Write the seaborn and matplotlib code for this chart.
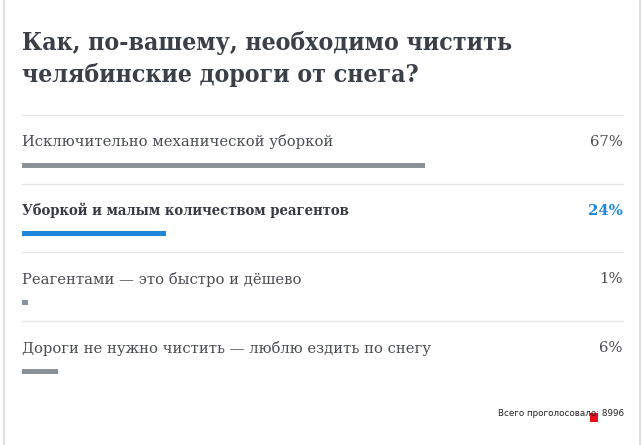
import matplotlib
matplotlib.use("Agg")
import matplotlib.pyplot as plt
import seaborn as sns
import pandas as pd
from matplotlib.patches import Rectangle

title = "Как, по-вашему, необходимо чистить\nчелябинские дороги от снега?"
categories = [
    "Исключительно механической уборкой",
    "Уборкой и малым количеством реагентов",
    "Реагентами — это быстро и дёшево",
    "Дороги не нужно чистить — люблю ездить по снегу",
]
values = [67, 24, 1, 6]
pct_labels = ["67%", "24%", "1%", "6%"]
highlight = [False, True, False, False]
footer = "Всего проголосовало: 8996"

GRAY = "#8b9199"
BLUE = "#1e87d9"
TEXT = "#4a4d52"
DARK = "#363a42"

sns.set_theme(style="white")
plt.rcParams["font.family"] = ["DejaVu Serif", "DejaVu Sans"]

W, H = 643, 445
fig = plt.figure(figsize=(W / 100, H / 100), dpi=100)
fig.patch.set_facecolor("white")

fig.add_artist(plt.Line2D([3.5 / W, 3.5 / W], [0, 1], color="#d9d9d9", lw=1.2))
fig.add_artist(plt.Line2D([639.5 / W, 639.5 / W], [0, 1], color="#d9d9d9", lw=1.2))

row = 68.7
top_px = 165 - row / 2
left, right = 22, 623
ax = fig.add_axes([left / W, (H - (top_px + 4 * row)) / H, (right - left) / W, 4 * row / H])

df = pd.DataFrame({"cat": categories, "val": values})
colors = [BLUE if h else GRAY for h in highlight]
sns.barplot(data=df, x="val", y="cat", hue="cat", palette=colors, legend=False,
            width=5 / row, ax=ax, orient="h", saturation=1)
for p in ax.patches:
    p.set_linewidth(0)

ax.set_xlim(0, 100)
ax.set_ylim(3.5, -0.5)
ax.axis("off")

for i, (cat, pct, h) in enumerate(zip(categories, pct_labels, highlight)):
    ax.plot([0, 100], [i - 0.73, i - 0.73], color="#e6e6e6", lw=1, clip_on=False)
    ax.text(0, i - 0.335, cat, ha="left", va="center", fontsize=10.6,
            color=DARK if h else TEXT, fontweight="bold" if h else "light",
            fontstretch="condensed" if h else "normal")
    ax.text(100, i - 0.335, pct, ha="right", va="center", fontsize=10.6,
            color=BLUE if h else TEXT, fontweight="bold" if h else "light")

fig.text(22 / W, 1 - 31 / H, title, ha="left", va="top", fontsize=17.8,
         fontweight="bold", fontstretch="condensed", color="#3b3f47", linespacing=1.4)

fig.text(624 / W, 1 - 413 / H, footer, ha="right", va="center", fontsize=6.3,
         color="#222222", family=["DejaVu Sans"])
fig.add_artist(Rectangle((590 / W, 1 - 422 / H), 8 / W, 9 / H, transform=fig.transFigure,
                         facecolor="#e8101a", edgecolor="none"))

fig.savefig("out.png", dpi=100)
